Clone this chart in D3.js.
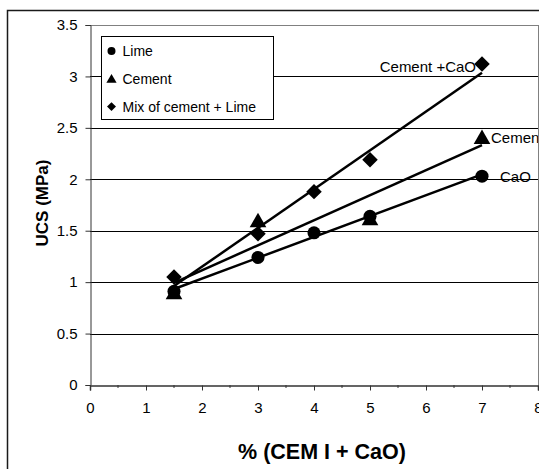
<!DOCTYPE html>
<html>
<head>
<meta charset="utf-8">
<script src="https://cdn.jsdelivr.net/npm/d3@7"></script>
<style>
  html, body { margin: 0; padding: 0; background: #fff; }
  svg { display: block; }
  text { font-family: "Liberation Sans", Arial, Helvetica, sans-serif; fill: #000; }
</style>
</head>
<body>
<svg id="chart" width="539" height="469"></svg>
<script>
// Unconfined compressive strength vs binder content
const limeX = [1.5, 3, 4, 5, 7];
const limeY = [0.91, 1.24, 1.48, 1.64, 2.03];
const cementX = [1.5, 3, 5, 7];
const cementY = [0.90, 1.60, 1.62, 2.41];
const mixX = [1.5, 3, 4, 5, 7];
const mixY = [1.05, 1.47, 1.88, 2.19, 3.12];

const seriesNames = ["Lime", "Cement", "Mix of cement + Lime"];
const endLabels = ["CaO", "Cement", "Cement +CaO"];

const xTicks = [0, 1, 2, 3, 4, 5, 6, 7, 8];
const yTicks = [0, 0.5, 1, 1.5, 2, 2.5, 3, 3.5];

const xTitle = "% (CEM I + CaO)";
const yTitle = "UCS (MPa)";

const W = 539, H = 469;
const plot = { left: 90, right: 538, top: 25, bottom: 385 };

const svg = d3.select("#chart");

const x = d3.scaleLinear().domain([0, 8]).range([plot.left, plot.right]);
const y = d3.scaleLinear().domain([0, 3.5]).range([plot.bottom, plot.top]);

// outer chart frame
svg.append("rect")
  .attr("x", 7.5).attr("y", 10.5)
  .attr("width", W + 20).attr("height", H + 20)
  .attr("fill", "none").attr("stroke", "#1a1a1a").attr("stroke-width", 1.5);

// horizontal gridlines
svg.append("g").selectAll("line")
  .data(yTicks.filter(v => v > 0 && v < 3.5))
  .join("line")
  .attr("x1", plot.left).attr("x2", plot.right)
  .attr("y1", d => Math.round(y(d)) + 0.5).attr("y2", d => Math.round(y(d)) + 0.5)
  .attr("stroke", "#000").attr("stroke-width", 1);

// plot area border (top, right)
svg.append("path")
  .attr("d", `M${plot.left},${plot.top + 0.5}H${plot.right + 0.5}V${plot.bottom}`)
  .attr("fill", "none").attr("stroke", "#808080").attr("stroke-width", 1);

// y axis
const yAxis = d3.axisLeft(y).tickValues(yTicks)
  .tickFormat(d3.format("~g")).tickSize(5).tickPadding(8);
const gy = svg.append("g").attr("transform", `translate(${plot.left + 0.5},0)`).call(yAxis);
gy.select(".domain").attr("stroke", "#333");
gy.selectAll(".tick line").attr("stroke", "#333");
gy.selectAll(".tick text").attr("font-size", 15).attr("font-family", "Liberation Sans, Arial, sans-serif");

// x axis: major ticks at integers, minor at halves
const xMinor = d3.range(0.5, 8, 1);
svg.append("g").selectAll("line").data(xMinor).join("line")
  .attr("x1", d => x(d)).attr("x2", d => x(d))
  .attr("y1", plot.bottom).attr("y2", plot.bottom + 3)
  .attr("stroke", "#333");
const xAxis = d3.axisBottom(x).tickValues(xTicks)
  .tickFormat(d3.format("d")).tickSize(5).tickPadding(12);
const gx = svg.append("g").attr("transform", `translate(0,${plot.bottom + 0.5})`).call(xAxis);
gx.select(".domain").attr("stroke", "#333").attr("stroke-width", 1.5);
gx.selectAll(".tick line").attr("stroke", "#333");
gx.selectAll(".tick text").attr("font-size", 15).attr("font-family", "Liberation Sans, Arial, sans-serif");

// axis titles
svg.append("text")
  .attr("x", 322).attr("y", 459)
  .attr("text-anchor", "middle").attr("font-weight", "bold").attr("font-size", 21.5)
  .text(xTitle);
svg.append("text")
  .attr("transform", `translate(48,203) rotate(-90)`)
  .attr("text-anchor", "middle").attr("font-weight", "bold").attr("font-size", 17)
  .text(yTitle);

// least-squares trendline for a series
function fit(xs, ys) {
  const mx = d3.mean(xs), my = d3.mean(ys);
  const sxy = d3.sum(xs, (v, i) => (v - mx) * (ys[i] - my));
  const sxx = d3.sum(xs, v => (v - mx) ** 2);
  const b = sxy / sxx, a = my - b * mx;
  return v => a + b * v;
}

const series = [
  { name: seriesNames[0], xs: limeX, ys: limeY, symbol: d3.symbolCircle, size: 135, legendSize: 50, rotate: 0, label: endLabels[0] },
  { name: seriesNames[1], xs: cementX, ys: cementY, symbol: d3.symbolTriangle, size: 120, legendSize: 45, rotate: 0, label: endLabels[1] },
  { name: seriesNames[2], xs: mixX, ys: mixY, symbol: d3.symbolSquare, size: 120, legendSize: 40, rotate: 45, label: endLabels[2] }
];

// trendlines
const lineGen = d3.line().x(d => x(d[0])).y(d => y(d[1]));
series.forEach(s => {
  const f = fit(s.xs, s.ys);
  const x0 = d3.min(s.xs), x1 = d3.max(s.xs);
  svg.append("path")
    .attr("d", lineGen([[x0, f(x0)], [x1, f(x1)]]))
    .attr("fill", "none").attr("stroke", "#000").attr("stroke-width", 2.5);
});

// markers
const markerShift = { "Cement": 2 };
series.forEach(s => {
  const sym = d3.symbol().type(s.symbol).size(s.size);
  svg.append("g").selectAll("path")
    .data(s.xs.map((v, i) => [v, s.ys[i]]))
    .join("path")
    .attr("d", sym)
    .attr("transform", d => `translate(${x(d[0])},${y(d[1]) + (markerShift[s.name] || 0)}) rotate(${s.rotate})`)
    .attr("fill", "#000");
});

// series end labels
const lastOf = s => [s.xs[s.xs.length - 1], s.ys[s.ys.length - 1]];
const labelOffsets = [
  { dx: 18, dy: 0, anchor: "start" },
  { dx: 9, dy: 0, anchor: "start" },
  { dx: -6, dy: 2, anchor: "end" }
];
series.forEach((s, i) => {
  const [lx, ly] = lastOf(s);
  svg.append("text")
    .attr("x", x(lx) + labelOffsets[i].dx).attr("y", y(ly) + labelOffsets[i].dy)
    .attr("text-anchor", labelOffsets[i].anchor)
    .attr("dominant-baseline", "central")
    .attr("font-size", 15)
    .text(s.label);
});

// right border drawn over labels that run past the plot edge
svg.append("line")
  .attr("x1", plot.right + 0.5).attr("x2", plot.right + 0.5)
  .attr("y1", plot.top).attr("y2", plot.bottom)
  .attr("stroke", "#808080");

// legend
const lg = svg.append("g").attr("transform", "translate(101.5,36.5)");
lg.append("rect").attr("width", 172).attr("height", 83)
  .attr("fill", "#fff").attr("stroke", "#000").attr("stroke-width", 1);
series.forEach((s, i) => {
  const cy = 14.5 + i * 27.8;
  lg.append("path")
    .attr("d", d3.symbol().type(s.symbol).size(s.legendSize)())
    .attr("transform", `translate(10,${cy + (i === 1 ? 1 : 0)}) rotate(${s.rotate})`)
    .attr("fill", "#000");
  lg.append("text")
    .attr("x", 21).attr("y", cy)
    .attr("dominant-baseline", "central")
    .attr("font-size", 14)
    .text(s.name);
});
</script>
</body>
</html>
